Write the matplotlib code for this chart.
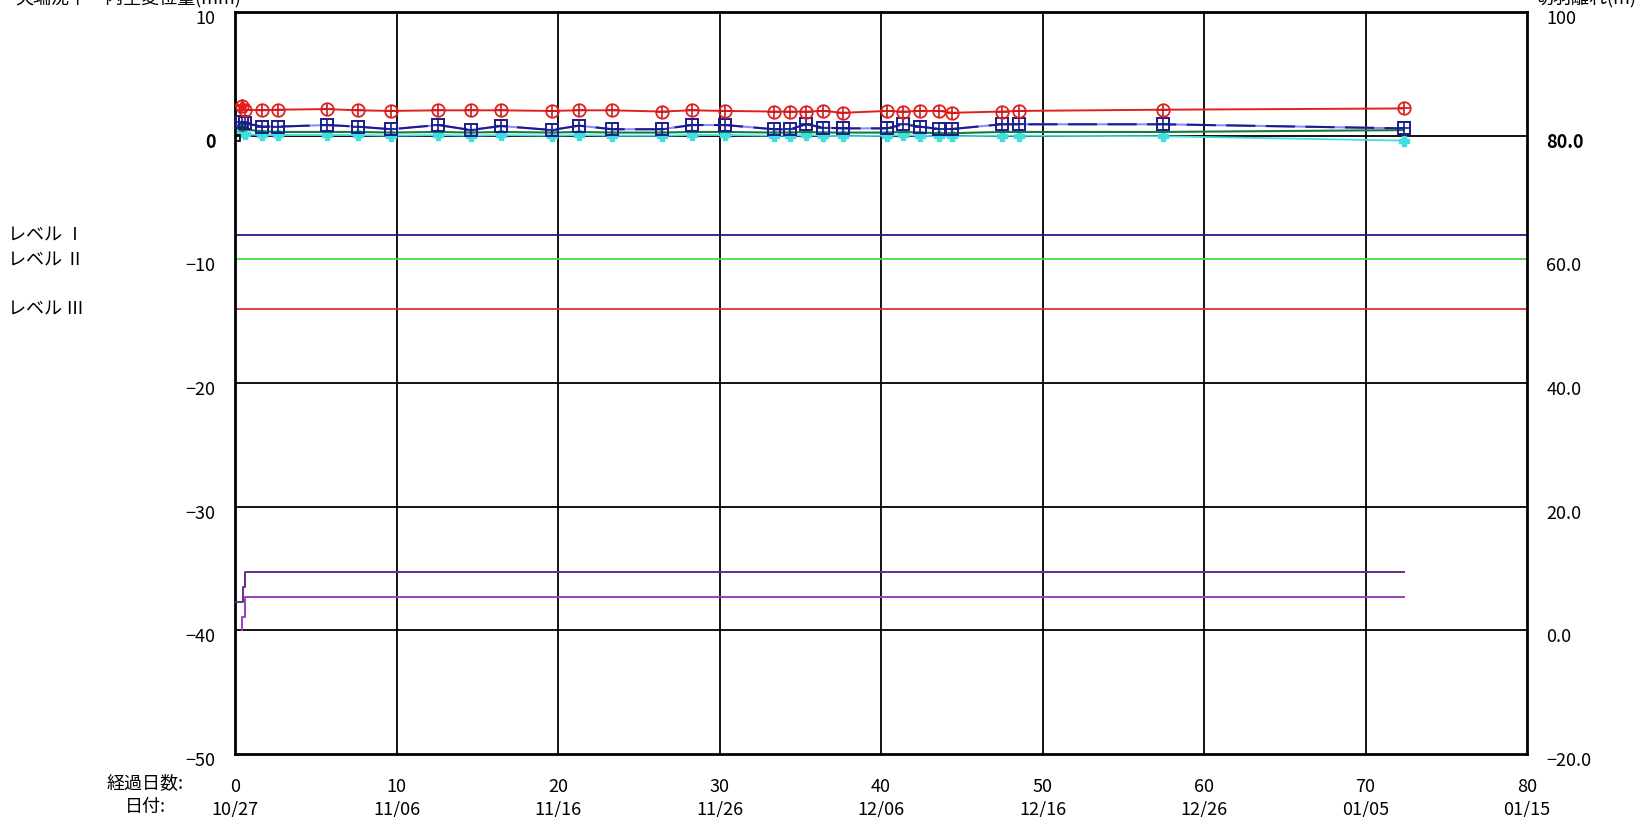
import matplotlib
matplotlib.use("Agg")
import matplotlib.pyplot as plt
from matplotlib.transforms import ScaledTranslation

plt.rcParams['font.family'] = ['Noto Sans CJK JP', 'DejaVu Sans']

# 計測日（経過日数）
days = [0.41, 0.62, 1.69, 2.68, 5.68, 7.60, 9.66, 12.59, 14.59, 16.47,
        19.60, 21.30, 23.36, 26.42, 28.28, 30.34, 33.37, 34.37, 35.36, 36.43,
        37.63, 40.39, 41.38, 42.41, 43.61, 44.41, 47.47, 48.54, 57.44, 72.38]

# 各測線の変位量 (mm)
red_vals = [2.4, 2.1, 2.05, 2.1, 2.15, 2.05, 2.0, 2.05, 2.05, 2.05,
            2.0, 2.05, 2.05, 1.95, 2.05, 2.0, 1.95, 1.95, 1.95, 2.0,
            1.85, 2.0, 1.95, 2.0, 2.0, 1.85, 1.95, 2.0, 2.1, 2.2]
blue_vals = [1.13, 1.0, 0.73, 0.73, 0.86, 0.73, 0.52, 0.86, 0.46, 0.78,
             0.46, 0.81, 0.52, 0.52, 0.86, 0.86, 0.52, 0.52, 0.92, 0.65,
             0.59, 0.59, 0.92, 0.73, 0.54, 0.54, 0.92, 0.92, 0.92, 0.59]
green_vals = [0.8, 0.5, 0.35, 0.3, 0.3, 0.3, 0.25, 0.3, 0.25, 0.3,
              0.25, 0.3, 0.25, 0.25, 0.3, 0.3, 0.25, 0.25, 0.3, 0.25,
              0.25, 0.25, 0.3, 0.25, 0.2, 0.2, 0.3, 0.3, 0.3, 0.45]
cyan_vals = [0.3, 0.1, 0.05, 0.05, 0.05, 0.05, 0.0, 0.05, 0.0, 0.05,
             0.0, 0.05, 0.0, 0.0, 0.05, 0.05, 0.0, 0.0, 0.05, 0.0,
             -0.05, 0.0, 0.05, 0.0, -0.05, -0.05, 0.0, 0.0, -0.05, -0.4]
black_x = [0.14]
black_vals = [-0.15]

# 管理レベル
levels = [-8, -10, -14]
level_names = ['レベル Ⅰ', 'レベル Ⅱ', 'レベル Ⅲ']
level_colors = ['#1c1c8c', '#44dd44', '#e03030']

# 段階線
step1_x = [0.0, 0.48, 0.62, 72.38]
step1_y = [-37.7, -36.5, -35.3, -35.3]
step2_x = [0.41, 0.62, 72.38]
step2_y = [-40.0, -38.9, -37.3]

xticks = [0, 10, 20, 30, 40, 50, 60, 70, 80]
date_labels = ['10/27', '11/06', '11/16', '11/26', '12/06',
               '12/16', '12/26', '01/05', '01/15']
yticks = [10, 0, -10, -20, -30, -40, -50]
right_labels = ['100', '80.0', '60.0', '40.0', '20.0', '0.0', '-20.0']

fig = plt.figure(figsize=(16.44, 8.17), dpi=100)
ax = fig.add_axes([235 / 1644, 63 / 817, 1292 / 1644, 742 / 817])

ax.set_xlim(0, 80)
ax.set_ylim(-50, 10)

for x in xticks[1:-1]:
    ax.axvline(x, color='black', lw=1.3, zorder=1)
for y in [0, -20, -30, -40]:
    ax.axhline(y, color='black', lw=1.3, zorder=1)

for lv, c in zip(levels, level_colors):
    ax.axhline(lv, color=c, lw=1.3, zorder=2)

# 段階線（紫）
ax.plot(step1_x, step1_y, drawstyle='steps-post', color='#6a2a8a', lw=1.4, zorder=3)
ax.plot(step2_x, step2_y, drawstyle='steps-pre', color='#9a40b8', lw=1.4, zorder=3)

# 測線
ax.plot(days, cyan_vals, color='#40dede', lw=1.3, marker='P', ms=7, zorder=4)
ax.plot(days, green_vals, color='#1a7a3a', lw=1.5, zorder=4)
ax.plot(days[:1], green_vals[:1], color='#1a7a3a', marker='o', ms=7, zorder=5)

ax.plot(days, blue_vals, color='#8c8cff', lw=1.5, zorder=5)
ax.plot(days, blue_vals, color='#1c1c8c', lw=1.5, dashes=(14, 5), zorder=6,
        marker='s', ms=9, mfc='none', mec='#1c1c8c', mew=1.4)
ax.plot(days, blue_vals, ls='none', marker='+', ms=8, mec='#1c1c8c', mew=1.2, zorder=6)

ax.plot(days, red_vals, color='#e02020', lw=1.4, zorder=7,
        marker='o', ms=9, mfc='none', mec='#e02020', mew=1.3)
ax.plot(days, red_vals, ls='none', marker='+', ms=9, mec='#d01818', mew=1.2, zorder=7)
ax.plot(days[:1], red_vals[:1], ls='none', marker='*', ms=10, color='#e02020', zorder=7)

ax.plot(black_x, black_vals, ls='none', marker='s', ms=5, mfc='none',
        mec='black', mew=1.2, zorder=8)

for s in ax.spines.values():
    s.set_linewidth(2)
    s.set_color('black')

# 左軸
ax.set_yticks(yticks)
ax.set_yticklabels([str(v).replace('-', '−') for v in yticks], fontsize=13)
ax.tick_params(axis='y', length=0, pad=14)
down = ScaledTranslation(0, -5 / 100, fig.dpi_scale_trans)
for lbl in ax.get_yticklabels():
    lbl.set_transform(lbl.get_transform() + down)
    if lbl.get_text() == '0':
        lbl.set_fontweight('bold')

# 右軸
ax2 = ax.twinx()
ax2.set_ylim(-20, 100)
ax2.set_yticks([100, 80, 60, 40, 20, 0, -20])
ax2.set_yticklabels([t.replace('-', '−') for t in right_labels], fontsize=13)
ax2.tick_params(axis='y', length=0, pad=14)
for lbl in ax2.get_yticklabels():
    lbl.set_transform(lbl.get_transform() + down)
    if lbl.get_text() == '80.0':
        lbl.set_fontweight('bold')
for s in ax2.spines.values():
    s.set_visible(False)

# 横軸（経過日数・日付）
ax.set_xticks(xticks)
ax.set_xticklabels([f'{d}\n{t}' for d, t in zip(xticks, date_labels)],
                   fontsize=13, linespacing=1.35)
ax.tick_params(axis='x', length=0, pad=17)
fig.text(145 / 1644, 1 - 783 / 817, '経過日数:', fontsize=13, ha='center', va='center')
fig.text(145 / 1644, 1 - 807 / 817, '日付:', fontsize=13, ha='center', va='center')

# 管理レベル名
for lv, name in zip(levels, level_names):
    ax.annotate(name, xy=(0, lv), xycoords=('axes fraction', 'data'),
                xytext=(8 / 1644, 0), textcoords=('figure fraction', 'offset points'),
                fontsize=13, va='center', ha='left')

# 上端の見出し（上側は紙面外）
fig.text(15 / 1644, 1 - 3 / 817, '天端沈下・内空変位量(mm)', fontsize=13, va='baseline')
fig.text(1535 / 1644, 1 - 3 / 817, '切羽離れ(m)', fontsize=13, va='baseline')

fig.savefig('out.png', dpi=100)
